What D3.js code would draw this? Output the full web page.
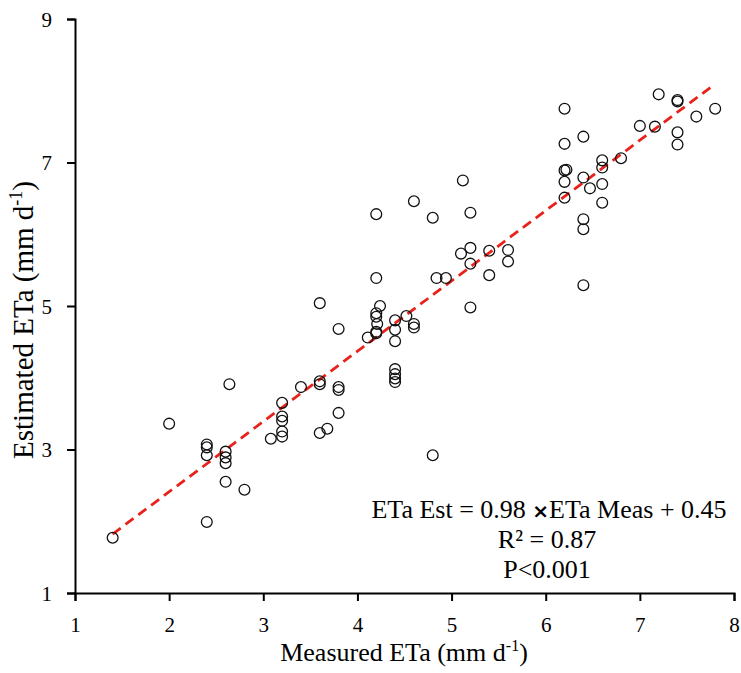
<!DOCTYPE html>
<html>
<head>
<meta charset="utf-8">
<script src="https://cdn.jsdelivr.net/npm/d3@7"></script>
<style>
  body { margin: 0; background: #fff; }
  text { font-family: "Liberation Serif", "Times New Roman", serif; }
</style>
</head>
<body>
<div id="chart"></div>
<script>
// measured vs estimated ETa (mm/d)
var measured = [1.4, 2.0, 2.4, 2.4, 2.4, 2.4, 2.6, 2.6, 2.6, 2.6, 2.64, 2.8, 3.08,
    3.2, 3.2, 3.2, 3.2, 3.2, 3.4, 3.6, 3.6, 3.6, 3.6, 3.68, 3.8, 3.8, 3.8, 3.8,
    4.11, 4.2, 4.2, 4.24, 4.2, 4.2, 4.21, 4.2, 4.2, 4.4, 4.4, 4.4, 4.4, 4.4, 4.4, 4.4,
    4.52, 4.6, 4.6, 4.6, 4.8, 4.8, 4.84, 4.94, 5.12, 5.2, 5.1, 5.2, 5.2, 5.2,
    5.4, 5.4, 5.6, 5.6, 6.2, 6.2, 6.2, 6.22, 6.2, 6.2, 6.4, 6.4, 6.47, 6.4, 6.4, 6.4,
    6.6, 6.6, 6.6, 6.6, 6.8, 7.0, 7.16, 7.2, 7.4, 7.4, 7.4, 7.4, 7.6, 7.8];
var estimated = [1.77, 3.36, 3.07, 3.03, 2.92, 1.99, 2.97, 2.89, 2.81, 2.55, 3.91, 2.44, 3.15,
    3.65, 3.46, 3.40, 3.25, 3.18, 3.87, 3.95, 3.91, 3.23, 5.04, 3.29, 4.68, 3.87, 3.83, 3.51,
    4.56, 6.28, 5.39, 5.0, 4.90, 4.85, 4.75, 4.64, 4.62, 4.80, 4.67, 4.51, 4.12, 4.05, 3.99, 3.94,
    4.86, 4.75, 4.70, 6.46, 6.23, 2.92, 5.39, 5.39, 6.75, 6.30, 5.73, 5.81, 5.59, 4.98,
    5.77, 5.43, 5.78, 5.62, 7.75, 7.26, 6.89, 6.90, 6.73, 6.51, 7.36, 6.79, 6.64, 6.21, 6.07, 5.29,
    7.03, 6.93, 6.70, 6.44, 7.06, 7.51, 7.50, 7.95, 7.87, 7.85, 7.42, 7.25, 7.64, 7.75];

var xTicks = [1, 2, 3, 4, 5, 6, 7, 8];
var yTicks = [1, 3, 5, 7, 9];

// fitted line: ETa Est = 0.98 * ETa Meas + 0.45
var slope = 0.98, intercept = 0.45;
var fitRange = [1.4, 7.75];

var eqLines = ["R\u00B2 = 0.87", "P<0.001"];

var width = 741, height = 673;
var margin = {top: 19, right: 7, bottom: 80, left: 75};
var plotW = width - margin.left - margin.right,
    plotH = height - margin.top - margin.bottom;

var svg = d3.select("#chart").append("svg")
    .attr("width", width)
    .attr("height", height);

var g = svg.append("g")
    .attr("transform", "translate(" + margin.left + "," + margin.top + ")");

var x = d3.scaleLinear().domain([1, 8]).range([0, plotW]);
var y = d3.scaleLinear().domain([1, 9]).range([plotH, 0]);

// axes
var xAxis = g.append("g")
    .attr("transform", "translate(0," + plotH + ")")
    .call(d3.axisBottom(x).tickValues(xTicks).tickSize(8).tickPadding(16).tickFormat(d3.format("d")));
var yAxis = g.append("g")
    .call(d3.axisLeft(y).tickValues(yTicks).tickSize(8).tickPadding(15).tickFormat(d3.format("d")));

[xAxis, yAxis].forEach(function(a) {
    a.select(".domain").attr("stroke", "#000").attr("stroke-width", 2);
    a.selectAll(".tick line").attr("stroke", "#000").attr("stroke-width", 2);
    a.selectAll(".tick text")
        .attr("fill", "#000")
        .style("font-size", "21px")
        .style("font-family", "'Liberation Serif', 'Times New Roman', serif");
});
yAxis.selectAll(".tick text").attr("dy", "0.35em");

// trend line
g.append("line")
    .attr("x1", x(fitRange[0]))
    .attr("y1", y(slope * fitRange[0] + intercept))
    .attr("x2", x(fitRange[1]))
    .attr("y2", y(slope * fitRange[1] + intercept))
    .attr("stroke", "#e8221b")
    .attr("stroke-width", 2.8)
    .attr("stroke-dasharray", "10,6");

// points
var pts = d3.zip(measured, estimated);
g.selectAll(".pt")
    .data(pts)
    .enter().append("circle")
    .attr("class", "pt")
    .attr("cx", function(d) { return x(d[0]); })
    .attr("cy", function(d) { return y(d[1]); })
    .attr("r", 5.4)
    .attr("fill", "none")
    .attr("stroke", "#111")
    .attr("stroke-width", 1.3);

// equation text
var eq = svg.append("text")
    .attr("x", 549)
    .attr("y", 518)
    .attr("text-anchor", "middle")
    .style("font-size", "26px");
eq.append("tspan").text("ETa Est = 0.98 ");
eq.append("tspan").text("\u00D7").style("font-family", "'DejaVu Sans', sans-serif").style("font-weight", "bold").style("font-size", "20px");
eq.append("tspan").text("ETa Meas + 0.45");

eqLines.forEach(function(t, i) {
    svg.append("text")
        .attr("x", 547)
        .attr("y", 548 + i * 30)
        .attr("text-anchor", "middle")
        .style("font-size", "26px")
        .text(t);
});

// axis titles
var xt = svg.append("text")
    .attr("x", 404)
    .attr("y", 661)
    .attr("text-anchor", "middle")
    .style("font-size", "26px");
xt.append("tspan").text("Measured ETa (mm d");
xt.append("tspan").text("-1").attr("dy", -10).style("font-size", "16px");
xt.append("tspan").text(")").attr("dy", 10);

var yt = svg.append("text")
    .attr("transform", "translate(33,320) rotate(-90)")
    .attr("text-anchor", "middle")
    .style("font-size", "29px");
yt.append("tspan").text("Estimated ETa (mm d");
yt.append("tspan").text("-1").attr("dy", -11).style("font-size", "18px");
yt.append("tspan").text(")").attr("dy", 11);
</script>
</body>
</html>
